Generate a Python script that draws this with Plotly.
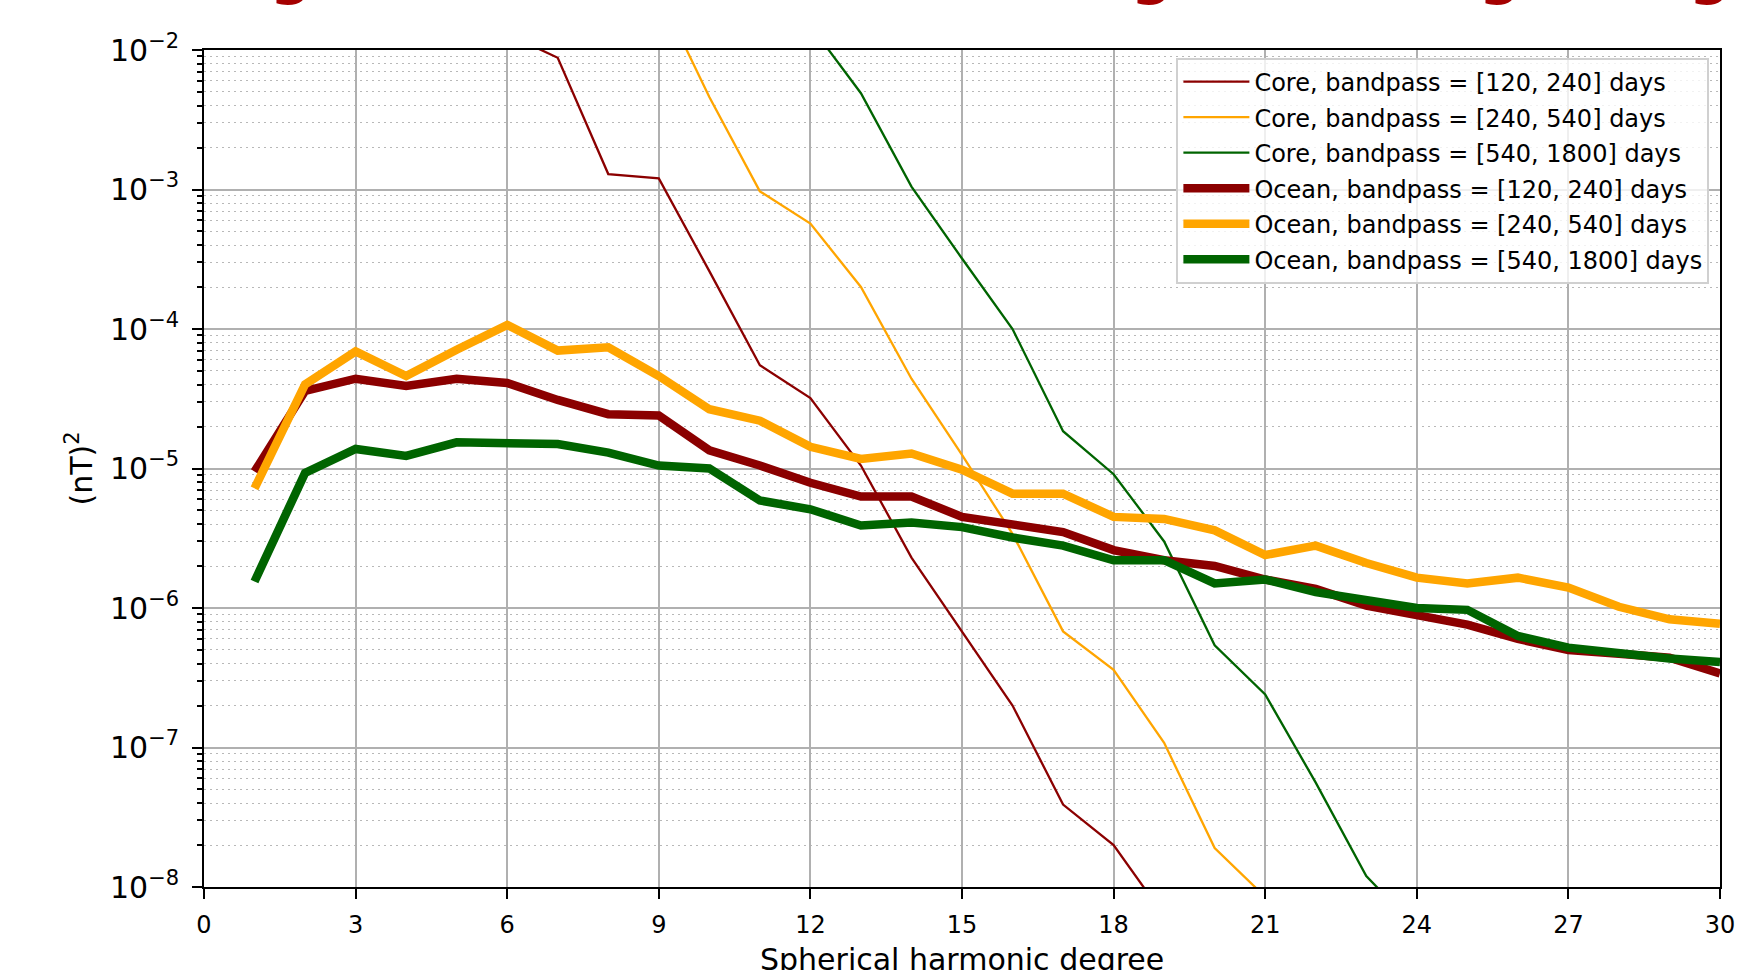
import plotly.graph_objects as go

# ---------------- data ----------------
degrees = list(range(1, 31))

ocean_120_240 = [9.5e-6, 3.6e-5, 4.4e-5, 3.9e-5, 4.4e-5, 4.1e-5, 3.1e-5, 2.45e-5, 2.4e-5, 1.35e-5,
                 1.05e-5, 7.9e-6, 6.3e-6, 6.3e-6, 4.5e-6, 3.9e-6, 3.5e-6, 2.6e-6, 2.2e-6, 2.0e-6,
                 1.6e-6, 1.37e-6, 1.04e-6, 8.9e-7, 7.6e-7, 6.0e-7, 5.0e-7, 4.7e-7, 4.4e-7, 3.4e-7]
ocean_240_540 = [7.2e-6, 4.0e-5, 6.9e-5, 4.6e-5, 7.1e-5, 1.07e-4, 7.0e-5, 7.4e-5, 4.6e-5, 2.66e-5,
                 2.2e-5, 1.43e-5, 1.17e-5, 1.28e-5, 9.8e-6, 6.6e-6, 6.6e-6, 4.5e-6, 4.35e-6, 3.6e-6,
                 2.4e-6, 2.8e-6, 2.1e-6, 1.65e-6, 1.5e-6, 1.65e-6, 1.4e-6, 1.02e-6, 8.3e-7, 7.7e-7]
ocean_540_1800 = [1.55e-6, 9.3e-6, 1.38e-5, 1.23e-5, 1.54e-5, 1.52e-5, 1.5e-5, 1.3e-5, 1.05e-5, 1.0e-5,
                  5.9e-6, 5.1e-6, 3.9e-6, 4.1e-6, 3.8e-6, 3.2e-6, 2.8e-6, 2.2e-6, 2.2e-6, 1.5e-6,
                  1.6e-6, 1.3e-6, 1.14e-6, 1.0e-6, 9.7e-7, 6.3e-7, 5.2e-7, 4.7e-7, 4.35e-7, 4.1e-7]

core_120_240_deg = list(range(6, 20))
core_120_240 = [1.3e-2, 8.8e-3, 1.29e-3, 1.2e-3, 2.6e-4, 5.5e-5, 3.2e-5, 1.05e-5, 2.3e-6, 6.8e-7,
                2.0e-7, 3.9e-8, 2.0e-8, 6.2e-9]
core_240_540_deg = list(range(9, 22))
core_240_540 = [2.6e-2, 4.6e-3, 9.7e-4, 5.7e-4, 2.0e-4, 4.4e-5, 1.25e-5, 3.4e-6, 6.8e-7, 3.6e-7,
                1.08e-7, 1.9e-8, 8.5e-9]
core_540_1800_deg = list(range(12, 25))
core_540_1800 = [1.5e-2, 4.9e-3, 1.05e-3, 3.2e-4, 1.0e-4, 1.85e-5, 9.1e-6, 3.0e-6, 5.4e-7, 2.4e-7,
                 5.6e-8, 1.2e-8, 5.0e-9]

x_ticks = list(range(0, 31, 3))
x_label = "Spherical harmonic degree"
y_label = "(nT)<sup>2</sup>"
clipped_title_glyphs = ["g", "g", "g", "g"]
clipped_title_x = [0.0574, 0.6253, 0.8549, 0.9934]

DARKRED = "#8B0000"
ORANGE = "#FFA500"
DARKGREEN = "#006400"
FONT = "DejaVu Sans"

fig = go.Figure()
thin = 2.3
thick = 8.5
for i, (name, xs, ys, col, w) in enumerate([
    ("Core, bandpass = [120, 240] days", core_120_240_deg, core_120_240, DARKRED, thin),
    ("Core, bandpass = [240, 540] days", core_240_540_deg, core_240_540, ORANGE, thin),
    ("Core, bandpass = [540, 1800] days", core_540_1800_deg, core_540_1800, DARKGREEN, thin),
    ("Ocean, bandpass = [120, 240] days", degrees, ocean_120_240, DARKRED, thick),
    ("Ocean, bandpass = [240, 540] days", degrees, ocean_240_540, ORANGE, thick),
    ("Ocean, bandpass = [540, 1800] days", degrees, ocean_540_1800, DARKGREEN, thick),
]):
    fig.add_trace(go.Scatter(x=xs, y=ys, mode="lines", name=name, legendgroup="g%d" % i,
                             line=dict(color=col, width=w)))

annotations = []
for g, gx in zip(clipped_title_glyphs, clipped_title_x):
    annotations.append(dict(text="<b>" + g + "</b>", x=gx, y=1.0495, xref="paper", yref="paper",
                            xanchor="center", yanchor="bottom", showarrow=False,
                            font=dict(family=FONT, size=58, color="#A50000")))
# axis labels, placed where the reference shows them (x label partly cut at the bottom edge)
annotations.append(dict(text=x_label, x=0.5, y=-0.0865, xref="paper", yref="paper",
                        xanchor="center", yanchor="middle", showarrow=False,
                        font=dict(family=FONT, size=30, color="black")))
annotations.append(dict(text=y_label, x=-0.0818, y=0.5, xref="paper", yref="paper",
                        xanchor="center", yanchor="middle", showarrow=False, textangle=-90,
                        font=dict(family=FONT, size=30, color="black")))

fig.update_layout(
    width=1739, height=970,
    margin=dict(l=204, r=19, t=50, b=83),
    paper_bgcolor="white", plot_bgcolor="white",
    font=dict(family=FONT, size=24, color="black"),
    showlegend=True,
    legend=dict(x=0.993, y=0.991, xanchor="right", yanchor="top",
                bgcolor="rgba(255,255,255,0.8)", bordercolor="#d0d0d0", borderwidth=2,
                font=dict(family=FONT, size=24, color="black"), itemwidth=66,
                tracegroupgap=1.3),
    annotations=annotations,
    xaxis=dict(
        range=[0, 30], tickmode="array", tickvals=x_ticks, ticktext=[str(t) for t in x_ticks],
        showgrid=True, gridcolor="#b0b0b0", gridwidth=2, automargin=False,
        showline=True, linecolor="black", linewidth=2, mirror=True,
        ticks="outside", ticklen=10, tickwidth=2, tickcolor="black",
        ticklabelstandoff=5, zeroline=False,
    ),
    yaxis=dict(
        type="log", range=[-8, -2], dtick=1, exponentformat="power", automargin=False,
        showgrid=True, gridcolor="#b0b0b0", gridwidth=2,
        showline=True, linecolor="black", linewidth=2, mirror=True,
        ticks="outside", ticklen=10, tickwidth=2, tickcolor="black",
        ticklabelstandoff=8, zeroline=False,
        minor=dict(dtick="D1", ticks="outside", ticklen=5, tickwidth=1.5, tickcolor="black",
                   showgrid=True, gridcolor="#b8b8b8", gridwidth=1.3, griddash="2px,4px"),
    ),
)

fig.write_html("out.html")
